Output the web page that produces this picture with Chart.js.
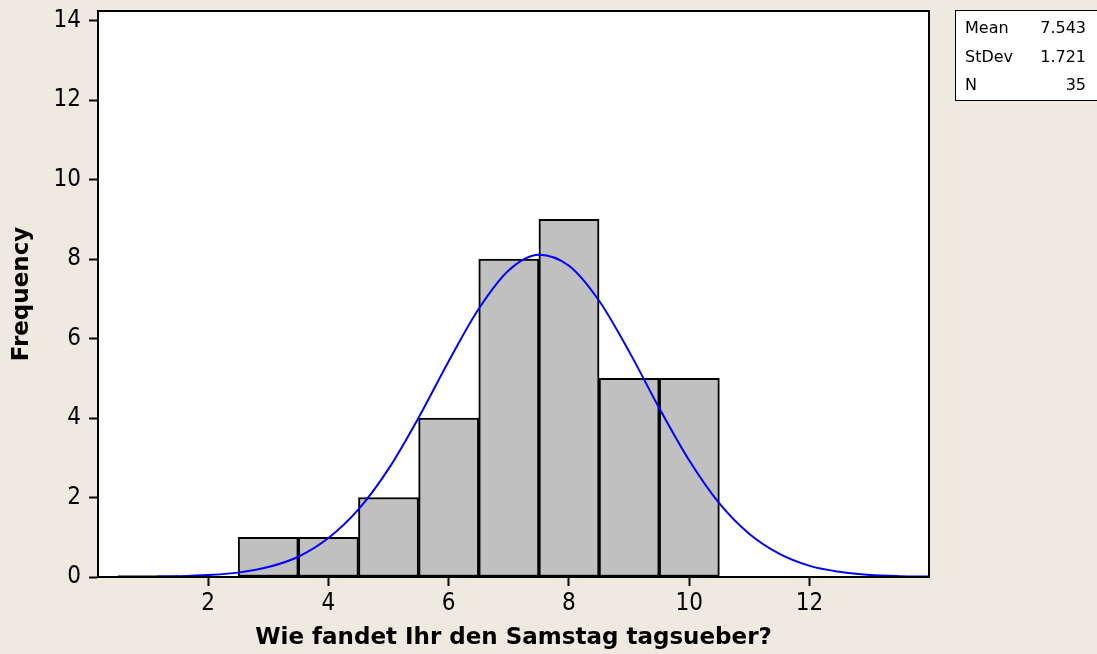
<!DOCTYPE html>
<html lang="de">
<head>
<meta charset="utf-8">
<title>Histogramm</title>
<script src="https://cdn.jsdelivr.net/npm/chart.js@4"></script>
<style>
  html, body { margin: 0; padding: 0; background: #EEEAE0; }
  canvas { display: block; }
</style>
</head>
<body>
<canvas id="myChart" width="1097" height="654"></canvas>
<script>
//datos del histograma
const clases = [3, 4, 5, 6, 7, 8, 9, 10];
const frecuencias = [1, 1, 2, 4, 8, 9, 5, 5];
const claseVaciaX = [0.5, 1.5]; //clase 1 con frecuencia 0 (linea negra sobre el eje)
const claseVaciaY = [0, 0];

//curva normal ajustada
const curvaX = [1.15, 1.5, 2, 2.5, 3, 3.5, 4, 4.5, 5, 5.5, 6, 6.5, 7, 7.5, 8, 8.5, 9, 9.5, 10, 10.5, 11, 11.5, 12, 12.5, 13, 13.5, 13.98];
const curvaY = [0.01, 0.02, 0.05, 0.11, 0.25, 0.51, 0.98, 1.70, 2.72, 4.01, 5.43, 6.75, 7.72, 8.11, 7.83, 6.95, 5.67, 4.25, 2.93, 1.85, 1.08, 0.58, 0.28, 0.13, 0.05, 0.02, 0.01];

//marcas de los ejes
const ticksX = [2, 4, 6, 8, 10, 12];
const ticksY = [0, 2, 4, 6, 8, 10, 12, 14];

//caja de estadisticos
const estadisticos = ["Mean", "StDev", "N"];
const valoresEst = ["7.543", "1.721", "35"];

const fuente = '"DejaVu Sans Condensed", "DejaVu Sans", sans-serif';

//plugin para fondo, marco del area y caja de estadisticos
const fondoYMarco = {
  id: "fondoYMarco",
  beforeDraw(chart) {
    const { ctx, chartArea: a } = chart;
    ctx.save();
    ctx.fillStyle = "#EEEAE0";
    ctx.fillRect(0, 0, chart.width, chart.height);
    ctx.fillStyle = "white";
    ctx.fillRect(a.left, a.top, a.right - a.left, a.bottom - a.top);
    ctx.restore();
  },
  afterDraw(chart) {
    const { ctx, chartArea: a } = chart;
    ctx.save();
    ctx.strokeStyle = "black";
    ctx.lineWidth = 2;
    ctx.strokeRect(a.left, a.top, a.right - a.left, a.bottom - a.top);
    //caja
    ctx.fillStyle = "white";
    ctx.fillRect(955, 10, 150, 90);
    ctx.lineWidth = 1;
    ctx.strokeRect(955.5, 10.5, 150, 90);
    ctx.fillStyle = "black";
    ctx.font = '16px "DejaVu Sans", sans-serif';
    ctx.textBaseline = "middle";
    estadisticos.forEach((nombre, i) => {
      const y = 29 + i * 28.5;
      ctx.textAlign = "left";
      ctx.fillText(nombre, 965, y);
      ctx.textAlign = "right";
      ctx.fillText(valoresEst[i], 1086, y);
    });
    ctx.restore();
  }
};

const ctx = document.getElementById("myChart").getContext("2d");
new Chart(ctx, {
  type: "bar",
  data: {
    datasets: [
      {
        type: "line",
        data: curvaX.map((x, i) => ({ x: x, y: curvaY[i] })),
        borderColor: "#0000FF",
        borderWidth: 2,
        pointRadius: 0,
        cubicInterpolationMode: "monotone",
        order: 0
      },
      {
        type: "line",
        data: claseVaciaX.map((x, i) => ({ x: x, y: claseVaciaY[i] })),
        borderColor: "black",
        borderWidth: 3,
        pointRadius: 0,
        order: 1
      },
      {
        type: "bar",
        data: clases.map((c, i) => ({ x: c, y: frecuencias[i] })),
        backgroundColor: "#C0C0C0",
        borderColor: "black",
        borderWidth: 2,
        borderSkipped: false,
        barPercentage: 1,
        categoryPercentage: 1,
        order: 2
      }
    ]
  },
  options: {
    responsive: false,
    animation: false,
    layout: { padding: { top: 11, right: 168, left: 0, bottom: 0 } },
    plugins: { legend: { display: false }, tooltip: { enabled: false } },
    scales: {
      x: {
        type: "linear",
        offset: false,
        min: 0.17,
        max: 13.985,
        afterBuildTicks: (s) => { s.ticks = ticksX.map((v) => ({ value: v })); },
        afterFit: (s) => { s.height = 77; s.paddingLeft = 0; s.paddingRight = 0; },
        grid: { drawOnChartArea: false, drawTicks: true, tickLength: 9, tickWidth: 2, tickColor: "black", offset: false },
        border: { display: true, color: "black", width: 2 },
        ticks: { color: "black", padding: 3, maxRotation: 0, font: { family: fuente, size: 24 } },
        title: {
          display: true,
          text: "Wie fandet Ihr den Samstag tagsueber?",
          color: "black",
          padding: { top: 0, bottom: 2 },
          font: { family: '"DejaVu Sans", sans-serif', size: 23, weight: "bold" }
        }
      },
      y: {
        min: 0,
        max: 14.24,
        afterBuildTicks: (s) => { s.ticks = ticksY.map((v) => ({ value: v })); },
        afterFit: (s) => { s.width = 98; s.paddingTop = 0; s.paddingBottom = 0; },
        grid: { drawOnChartArea: false, drawTicks: true, tickLength: 9, tickWidth: 2, tickColor: "black" },
        border: { display: true, color: "black", width: 2 },
        ticks: { color: "black", padding: 8, font: { family: fuente, size: 24, lineHeight: 0.9 } },
        title: {
          display: true,
          text: "Frequency",
          color: "black",
          padding: { top: 8, bottom: 0 },
          font: { family: '"DejaVu Sans", sans-serif', size: 23, weight: "bold" }
        }
      }
    }
  },
  plugins: [fondoYMarco]
});
</script>
</body>
</html>
